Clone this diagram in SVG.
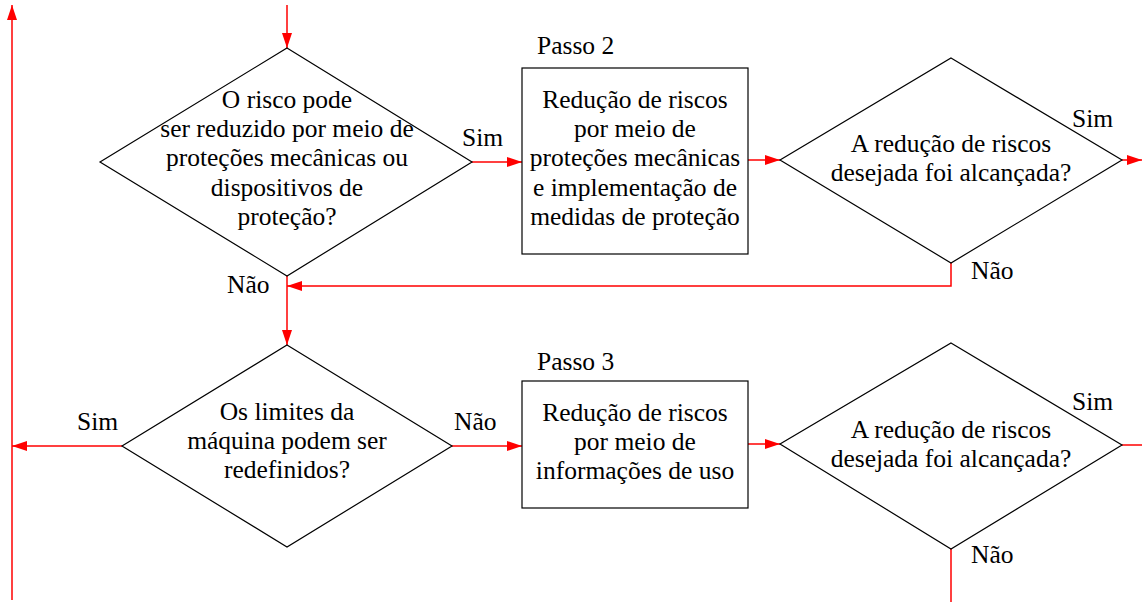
<svg xmlns="http://www.w3.org/2000/svg" width="1142" height="602" viewBox="0 0 1142 602" font-family="Liberation Serif, Tinos, Times New Roman, Times, serif" font-size="25">
<defs>
<style>
.n{fill:#fff;stroke:#000;stroke-width:1.2}
.c{fill:none;stroke:#f00;stroke-width:1.5}
text{font-family:'Liberation Serif',Tinos,'Times New Roman',Times,serif;font-size:25.5px;fill:#000}
.m{text-anchor:middle}
</style>
<marker id="a" markerWidth="15" markerHeight="10" refX="15" refY="5" orient="auto" markerUnits="userSpaceOnUse">
<path d="M0,0 L15,5 L0,10 Z" fill="#f00"/>
</marker>
</defs>
<g id="connectors">
<path class="c" d="M287,5 V48" marker-end="url(#a)"/>
<path class="c" d="M12,600 V5" marker-end="url(#a)"/>
<path class="c" d="M472,162 H522" marker-end="url(#a)"/>
<path class="c" d="M748,160 H780" marker-end="url(#a)"/>
<path class="c" d="M1122,160 H1142" marker-end="url(#a)"/>
<path class="c" d="M951,263 V286 H287" marker-end="url(#a)"/>
<path class="c" d="M287,276 V345" marker-end="url(#a)"/>
<path class="c" d="M122,446 H12" marker-end="url(#a)"/>
<path class="c" d="M452,446 H522" marker-end="url(#a)"/>
<path class="c" d="M748,444 H780" marker-end="url(#a)"/>
<path class="c" d="M1122,445 H1142"/>
<path class="c" d="M951,549 V602"/>
<text x="462" y="146">Sim</text>
<text x="1072" y="127">Sim</text>
<text x="227" y="293">Não</text>
<text x="971" y="279">Não</text>
<text x="77" y="430">Sim</text>
<text x="454" y="430">Não</text>
<text x="1072" y="410">Sim</text>
<text x="971" y="563">Não</text>
</g>
<g id="d1">
<polygon class="n" points="287,48 472,162 287,276 100,162"/>
<text class="m" x="287" y="108">O risco pode</text>
<text class="m" x="287" y="137">ser reduzido por meio de</text>
<text class="m" x="287" y="166">proteções mecânicas ou</text>
<text class="m" x="287" y="196">dispositivos de</text>
<text class="m" x="287" y="225">proteção?</text>
</g>
<g id="b1">
<text x="537" y="54">Passo 2</text>
<rect class="n" x="522" y="68" width="226" height="186"/>
<text class="m" x="635" y="108">Redução de riscos</text>
<text class="m" x="635" y="137">por meio de</text>
<text class="m" x="635" y="166">proteções mecânicas</text>
<text class="m" x="635" y="196">e implementação de</text>
<text class="m" x="635" y="225">medidas de proteção</text>
</g>
<g id="d2">
<polygon class="n" points="951,58 1122,160 951,263 780,160"/>
<text class="m" x="951" y="152">A redução de riscos</text>
<text class="m" x="951" y="181">desejada foi alcançada?</text>
</g>
<g id="d3">
<polygon class="n" points="287,345 452,446 287,547 122,446"/>
<text class="m" x="287" y="420">Os limites da</text>
<text class="m" x="287" y="449">máquina podem ser</text>
<text class="m" x="287" y="478">redefinidos?</text>
</g>
<g id="b2">
<text x="537" y="370">Passo 3</text>
<rect class="n" x="522" y="381" width="226" height="127"/>
<text class="m" x="635" y="421">Redução de riscos</text>
<text class="m" x="635" y="450">por meio de</text>
<text class="m" x="635" y="479">informações de uso</text>
</g>
<g id="d4">
<polygon class="n" points="951,343 1122,445 951,549 780,444"/>
<text class="m" x="951" y="438">A redução de riscos</text>
<text class="m" x="951" y="467">desejada foi alcançada?</text>
</g>
</svg>
